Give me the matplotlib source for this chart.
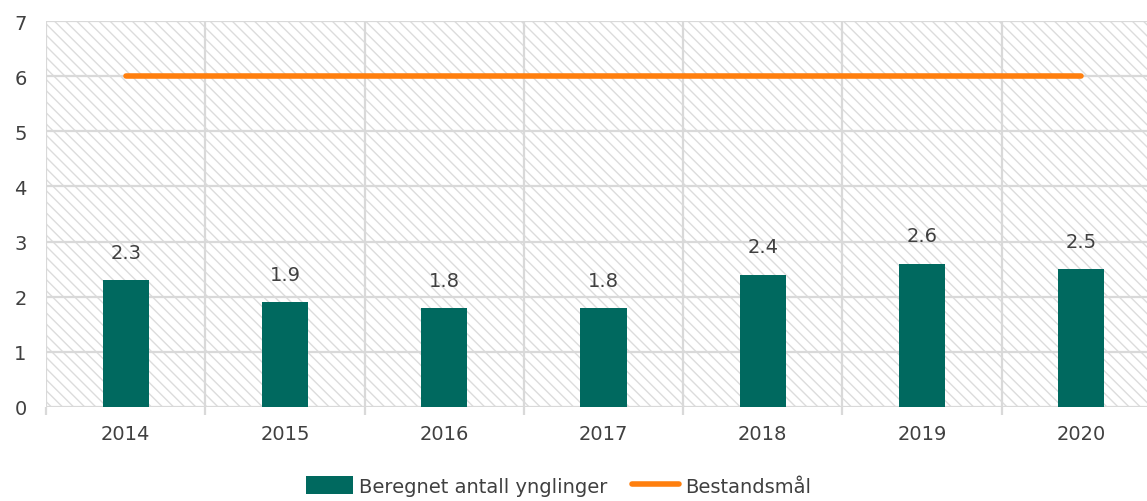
import matplotlib
matplotlib.use("Agg")
import matplotlib.pyplot as plt
from matplotlib.patches import Rectangle
import numpy as np

# data
years = ["2014", "2015", "2016", "2017", "2018", "2019", "2020"]
ynglinger = [2.3, 1.9, 1.8, 1.8, 2.4, 2.6, 2.5]
bestandsmaal = [6, 6, 6, 6, 6, 6, 6]

teal = "#00695f"
orange = "#ff7f0e"
grid_col = "#d9d9d9"
text_col = "#404040"

plt.rcParams["font.family"] = ["DejaVu Sans"]

fig = plt.figure(figsize=(11.47, 5.02), dpi=100)
ax = fig.add_axes([46 / 1147, 94 / 502, 1115 / 1147, 386 / 502])

x = np.arange(len(years))

# hatched background
bg = Rectangle((0, 0), 1, 1, transform=ax.transAxes, facecolor="white",
               edgecolor="#dcdcdc", hatch="\\\\\\", linewidth=0, zorder=0)
ax.add_patch(bg)

# grid lines
for yv in range(0, 8):
    ax.axhline(yv, color=grid_col, linewidth=1.6, zorder=1)
for xv in np.arange(-0.5, len(years), 1.0):
    ax.axvline(xv, color=grid_col, linewidth=1.6, zorder=1)

bars = ax.bar(x, ynglinger, width=0.29, color=teal, zorder=3,
              label="Beregnet antall ynglinger")
line, = ax.plot(x, bestandsmaal, color=orange, linewidth=4,
                solid_capstyle="round", zorder=4, label="Bestandsmål")

for xi, v in zip(x, ynglinger):
    ax.text(xi, v + 0.33, f"{v}", ha="center", va="bottom",
            fontsize=14, color=text_col)

ax.set_xlim(-0.5, 6.5)
ax.set_ylim(0, 7)
ax.set_yticks(range(0, 8))
ax.set_xticks(x)
ax.set_xticklabels(years)
ax.set_xticks(np.arange(-0.5, len(years), 1.0), minor=True)
ax.tick_params(axis="y", length=0, labelsize=14, labelcolor=text_col, pad=14)
ax.tick_params(axis="x", which="major", length=0, labelsize=14,
               labelcolor=text_col, pad=12)
ax.tick_params(axis="x", which="minor", length=6, width=1.6, color=grid_col)
for s in ax.spines.values():
    s.set_visible(False)

leg = fig.legend([bars, line], ["Beregnet antall ynglinger", "Bestandsmål"],
                 loc="center", bbox_to_anchor=(0.487, 0.03), ncol=2,
                 frameon=False, fontsize=14, handlelength=2.4,
                 handleheight=1.0, handletextpad=0.3, columnspacing=1.3)
for t in leg.get_texts():
    t.set_color(text_col)

fig.savefig("out.png", dpi=100)
